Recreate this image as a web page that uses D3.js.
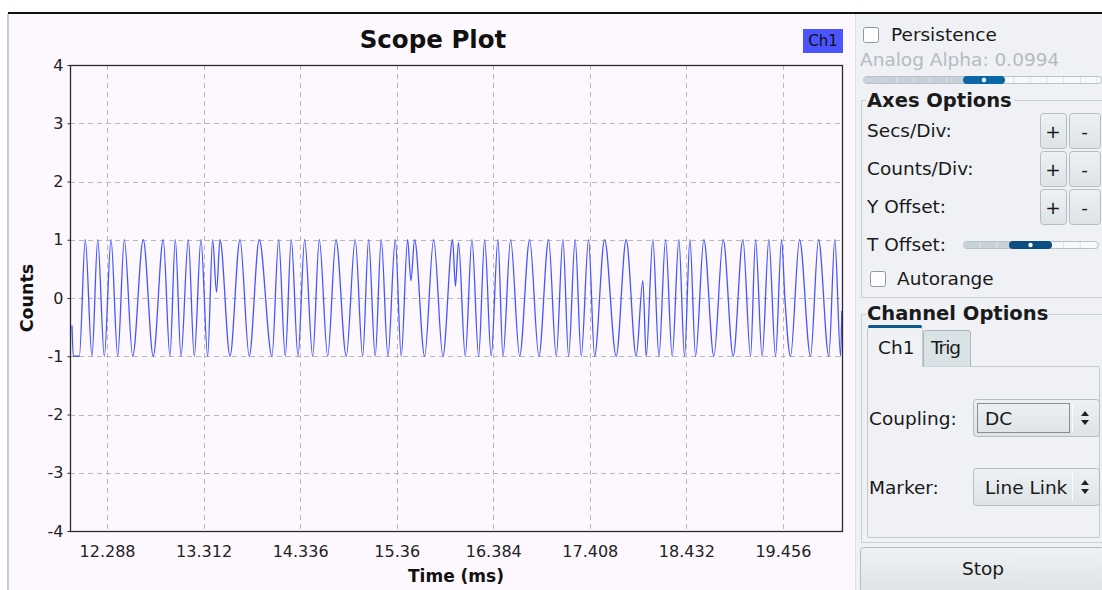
<!DOCTYPE html>
<html>
<head>
<meta charset="utf-8">
<script src="https://cdn.jsdelivr.net/npm/d3@7"></script>
<style>
  html, body { margin: 0; padding: 0; background: #fff; }
  svg { display: block; font-family: "DejaVu Sans", sans-serif; }
</style>
</head>
<body>
<svg id="chart" width="1102" height="590"></svg>
<script>
// Scope trace vertices (time in ms, counts)
var timeMs = [
  11.916, 11.930, 11.994, 12.057, 12.128, 12.189, 12.259, 12.330, 12.401, 12.471,
  12.560, 12.672, 12.778, 12.884, 12.955, 13.012, 13.072, 13.150, 13.213, 13.284,
  13.355, 13.408, 13.449, 13.486, 13.592, 13.698, 13.796, 13.902, 14.037, 14.108,
  14.178, 14.242, 14.313, 14.384, 14.469, 14.539, 14.628, 14.716, 14.825, 14.920,
  14.999, 15.062, 15.132, 15.196, 15.267, 15.345, 15.408, 15.476, 15.511, 15.550,
  15.656, 15.752, 15.850, 15.953, 15.983, 16.015, 16.087, 16.158, 16.229, 16.293,
  16.362, 16.434, 16.487, 16.568, 16.664, 16.770, 16.868, 16.971, 17.052, 17.123,
  17.183, 17.253, 17.317, 17.395, 17.459, 17.565, 17.688, 17.794, 17.900, 17.971,
  18.006, 18.077, 18.141, 18.212, 18.282, 18.353, 18.413, 18.470, 18.530, 18.618,
  18.724, 18.823, 18.929, 19.032, 19.113, 19.166, 19.236, 19.307, 19.378, 19.442,
  19.477, 19.537, 19.633, 19.749, 19.834, 19.943, 20.007, 20.068, 20.081
];
var counts = [
  -0.47, -1, -1, 1, -1, 1, -1, 1, -1, 1,
  -1, 1, -1, 1, -1, 1, -1, 1, -1, 1,
  -1, 1, 0.1, 1, -1, 1, -1, 1, -1, 1,
  -1, 1, -1, 1, -1, 1, -1, 1, -1, 1,
  -1, 1, -1, 1, -1, 1, -1, 1, 0.3, 1,
  -1, 1, -1, 1, 0.2, 0.95, -1, 1, -1, 1,
  -1, 1, -1, 1, -1, 1, -1, 1, -1, 1,
  -1, 1, -1, 1, -1, 1, -1, 1, -1, 0.3,
  -1, 1, -1, 1, -1, 1, -1, 1, -1, 1,
  -1, 1, -1, 1, -1, 1, -1, 1, -1, 1,
  0, -1, 1, -1, 1, -1, 1, -1, -0.22
];
var timeDomain = [11.895, 20.083];
var countDomain = [-4, 4];
var xTicks = [12.288, 13.312, 14.336, 15.36, 16.384, 17.408, 18.432, 19.456];
var xTickLabels = ['12.288', '13.312', '14.336', '15.36', '16.384', '17.408', '18.432', '19.456'];
var yTicks = [-4, -3, -2, -1, 0, 1, 2, 3, 4];
var seriesName = 'Ch1';

var svg = d3.select('#chart');
var W = 1102, H = 590;

// backgrounds
svg.append('rect').attr('x', 0).attr('y', 0).attr('width', W).attr('height', H).attr('fill', '#ffffff');
svg.append('rect').attr('x', 8).attr('y', 14).attr('width', 848).attr('height', H - 14).attr('fill', '#fdf8fd');
svg.append('rect').attr('x', 7).attr('y', 14).attr('width', 2).attr('height', H - 14).attr('fill', '#c5cdd2');
svg.append('rect').attr('x', 856).attr('y', 14).attr('width', W - 856).attr('height', H - 14).attr('fill', '#eff1f5');
svg.append('rect').attr('x', 855).attr('y', 14).attr('width', 1).attr('height', H - 14).attr('fill', '#e2dde6');
svg.append('rect').attr('x', 8).attr('y', 12).attr('width', W - 8).attr('height', 2).attr('fill', '#111');

// ---- plot ----
var plot = { left: 70, right: 842, top: 65, bottom: 531 };
var x = d3.scaleLinear().domain(timeDomain).range([plot.left, plot.right]);
var y = d3.scaleLinear().domain(countDomain).range([plot.bottom, plot.top]);

var g = svg.append('g');

// dashed grid
g.selectAll('.gx').data(xTicks).enter().append('line')
  .attr('x1', function (d) { return Math.round(x(d)) + 0.5; })
  .attr('x2', function (d) { return Math.round(x(d)) + 0.5; })
  .attr('y1', plot.top).attr('y2', plot.bottom)
  .attr('stroke', '#b9b9b9').attr('stroke-dasharray', '5,4');
g.selectAll('.gy').data(yTicks.slice(1, -1)).enter().append('line')
  .attr('x1', plot.left).attr('x2', plot.right)
  .attr('y1', function (d) { return Math.round(y(d)) + 0.5; })
  .attr('y2', function (d) { return Math.round(y(d)) + 0.5; })
  .attr('stroke', '#b9b9b9').attr('stroke-dasharray', '5,4');

// trace (monotone curve keeps the peaks flat like the sampled sine)
var line = d3.line()
  .x(function (d, i) { return x(timeMs[i]); })
  .y(function (d) { return y(d); })
  .curve(d3.curveMonotoneX);
g.append('path').datum(counts)
  .attr('d', line)
  .attr('fill', 'none').attr('stroke', '#4656ff').attr('stroke-width', 1.3);

// frame
g.append('rect')
  .attr('x', plot.left + 0.5).attr('y', plot.top + 0.5)
  .attr('width', plot.right - plot.left).attr('height', plot.bottom - plot.top)
  .attr('fill', 'none').attr('stroke', '#2b2b2b').attr('stroke-width', 1.3);

// y axis ticks + labels
var yAxis = d3.axisLeft(y).tickValues(yTicks).tickSize(3).tickFormat(function (d) { return String(d); });
var ya = svg.append('g').attr('transform', 'translate(' + (plot.left + 0.5) + ',0)').call(yAxis);
ya.select('.domain').remove();
ya.selectAll('line').attr('stroke', '#2b2b2b');
ya.selectAll('text').attr('x', -7).style('font-size', '16px').style('font-family', '"DejaVu Sans", sans-serif').attr('fill', '#222');

// x axis labels
var xAxis = d3.axisBottom(x).tickValues(xTicks).tickSize(0)
  .tickFormat(function (d, i) { return xTickLabels[i]; });
var xa = svg.append('g').attr('transform', 'translate(0,' + plot.bottom + ')').call(xAxis);
xa.select('.domain').remove();
xa.selectAll('text').attr('y', 15).style('font-size', '16px').style('font-family', '"DejaVu Sans", sans-serif').attr('fill', '#222');

// titles
svg.append('text').attr('x', 433).attr('y', 48).attr('text-anchor', 'middle')
  .style('font-size', '24.5px').style('font-weight', 'bold').attr('fill', '#111').text('Scope Plot');
svg.append('text').attr('x', (plot.left + plot.right) / 2).attr('y', 582).attr('text-anchor', 'middle')
  .style('font-size', '17px').style('font-weight', 'bold').attr('fill', '#111').text('Time (ms)');
svg.append('text').attr('transform', 'translate(33,' + ((plot.top + plot.bottom) / 2) + ') rotate(-90)')
  .attr('text-anchor', 'middle')
  .style('font-size', '17.5px').style('font-weight', 'bold').attr('fill', '#111').text('Counts');

// legend
svg.append('rect').attr('x', 803).attr('y', 29).attr('width', 40).attr('height', 24).attr('fill', '#4a55ff');
svg.append('text').attr('x', 823).attr('y', 46).attr('text-anchor', 'middle')
  .style('font-size', '15px').attr('fill', '#111').text(seriesName);

// ---- control panel ----
var panel = svg.append('g').style('font-size', '18.5px').attr('fill', '#1a1a1a');

function checkbox(px, py, label, lx) {
  panel.append('rect').attr('x', px + 0.5).attr('y', py + 0.5).attr('width', 15).attr('height', 15).attr('rx', 2)
    .attr('fill', '#fff').attr('stroke', '#8e989e');
  panel.append('text').attr('x', lx).attr('y', py + 14).text(label);
}

function slider(x0, x1, cy, h0, h1, leftFill, handleFill) {
  panel.append('rect').attr('x', x0 + 0.5).attr('y', cy - 3.5).attr('width', x1 - x0).attr('height', 7).attr('rx', 3)
    .attr('fill', '#f7f9fa').attr('stroke', '#b8c3c9');
  panel.append('rect').attr('x', x0 + 1).attr('y', cy - 3).attr('width', h0 - x0).attr('height', 6)
    .attr('fill', leftFill);
  d3.range(x0 + 17, x1, 16.7).forEach(function (tx) {
    if (tx > h0 - 2 && tx < h1 + 2) return;
    panel.append('line').attr('x1', tx).attr('x2', tx).attr('y1', cy - 3).attr('y2', cy + 3)
      .attr('stroke', '#dde3e6');
  });
  panel.append('rect').attr('x', h0).attr('y', cy - 4).attr('width', h1 - h0).attr('height', 8).attr('rx', 4)
    .attr('fill', handleFill);
  panel.append('circle').attr('cx', (h0 + h1) / 2).attr('cy', cy).attr('r', 2.2).attr('fill', '#fff');
}

var defs = svg.append('defs');
var lg = defs.append('linearGradient').attr('id', 'btnGrad').attr('x1', 0).attr('x2', 0).attr('y1', 0).attr('y2', 1);
lg.append('stop').attr('offset', '0%').attr('stop-color', '#eef1f3');
lg.append('stop').attr('offset', '100%').attr('stop-color', '#dde3e6');

function button(bx, by, bw, bh, label) {
  panel.append('rect').attr('x', bx + 0.5).attr('y', by + 0.5).attr('width', bw).attr('height', bh).attr('rx', 3)
    .attr('fill', 'url(#btnGrad)').attr('stroke', '#b3bdc3');
  if (label) {
    panel.append('text').attr('x', bx + bw / 2).attr('y', by + bh / 2 + 7).attr('text-anchor', 'middle').text(label);
  }
}

function spinArrows(cx, cy) {
  panel.append('path').attr('d', 'M' + (cx - 4) + ',' + (cy - 2) + 'L' + cx + ',' + (cy - 7) + 'L' + (cx + 4) + ',' + (cy - 2) + 'Z').attr('fill', '#222');
  panel.append('path').attr('d', 'M' + (cx - 4) + ',' + (cy + 2) + 'L' + cx + ',' + (cy + 7) + 'L' + (cx + 4) + ',' + (cy + 2) + 'Z').attr('fill', '#222');
}

checkbox(863, 27, 'Persistence', 891);
panel.append('text').attr('x', 860).attr('y', 66).attr('fill', '#b5bbc1').text('Analog Alpha: 0.0994');
slider(863, 1101, 80, 963, 1005, '#c7d1d7', '#0b66a8');

// Axes Options group
panel.append('path').attr('d', 'M866,100.5 H861.5 V297.5 H1102 M1014,100.5 H1102')
  .attr('fill', 'none').attr('stroke', '#c9cfd4');
panel.append('text').attr('x', 867).attr('y', 107).style('font-weight', 'bold').style('font-size', '19.5px').text('Axes Options');

var rowLabels = ['Secs/Div:', 'Counts/Div:', 'Y Offset:'];
var rowTops = [113, 151, 189];
rowLabels.forEach(function (lab, i) {
  panel.append('text').attr('x', 867).attr('y', rowTops[i] + 24).text(lab);
  button(1040, rowTops[i], 26, 35, '+');
  button(1069, rowTops[i], 31, 35, '-');
});
panel.append('text').attr('x', 867).attr('y', 251).text('T Offset:');
slider(963, 1098, 245, 1009, 1052, '#c7d1d7', '#0a4f80');
checkbox(870, 271, 'Autorange', 897);

// Channel Options group
panel.append('path').attr('d', 'M866,314.5 H861.5 V542.5 H1102 M1048,314.5 H1102')
  .attr('fill', 'none').attr('stroke', '#c9cfd4');
panel.append('text').attr('x', 867).attr('y', 320).style('font-weight', 'bold').style('font-size', '19.5px').text('Channel Options');

// tab pane
panel.append('rect').attr('x', 867.5).attr('y', 366.5).attr('width', 232).attr('height', 171).attr('rx', 2)
  .attr('fill', '#eff1f5').attr('stroke', '#c0c9ce');
panel.append('path').attr('d', 'M867.5,367 V330 Q867.5,327.5 870,327.5 H920 Q922.5,327.5 922.5,330 V367')
  .attr('fill', '#eff1f5').attr('stroke', '#c0c9ce');
panel.append('rect').attr('x', 868).attr('y', 325).attr('width', 54).attr('height', 3).attr('rx', 1.5).attr('fill', '#0b5a8c');
panel.append('rect').attr('x', 868).attr('y', 365).attr('width', 54).attr('height', 3).attr('fill', '#eff1f5');
panel.append('text').attr('x', 878).attr('y', 354).text('Ch1');
panel.append('path').attr('d', 'M923.5,366.5 V333 Q923.5,330.5 926,330.5 H968 Q970.5,330.5 970.5,333 V366.5')
  .attr('fill', '#d9e2e5').attr('stroke', '#aab6bc');
panel.append('text').attr('x', 931).attr('y', 354).style('letter-spacing', '-1px').text('Trig');

// combo boxes
panel.append('text').attr('x', 869).attr('y', 425).text('Coupling:');
button(973, 399, 126, 37, '');
panel.append('rect').attr('x', 977.5).attr('y', 403.5).attr('width', 92).attr('height', 29)
  .attr('fill', 'none').attr('stroke', '#333').attr('stroke-dasharray', '1,1');
panel.append('line').attr('x1', 1072.5).attr('x2', 1072.5).attr('y1', 404).attr('y2', 432).attr('stroke', '#fafbfc');
panel.append('text').attr('x', 985).attr('y', 425).text('DC');
spinArrows(1085, 418);

panel.append('text').attr('x', 869).attr('y', 494).text('Marker:');
button(973, 468, 126, 37, '');
panel.append('line').attr('x1', 1072.5).attr('x2', 1072.5).attr('y1', 473).attr('y2', 501).attr('stroke', '#fafbfc');
panel.append('text').attr('x', 985).attr('y', 494).text('Line Link');
spinArrows(1085, 487);

// stop button
button(860, 547, 244, 46, '');
panel.append('text').attr('x', 983).attr('y', 575).attr('text-anchor', 'middle').text('Stop');
</script>
</body>
</html>
